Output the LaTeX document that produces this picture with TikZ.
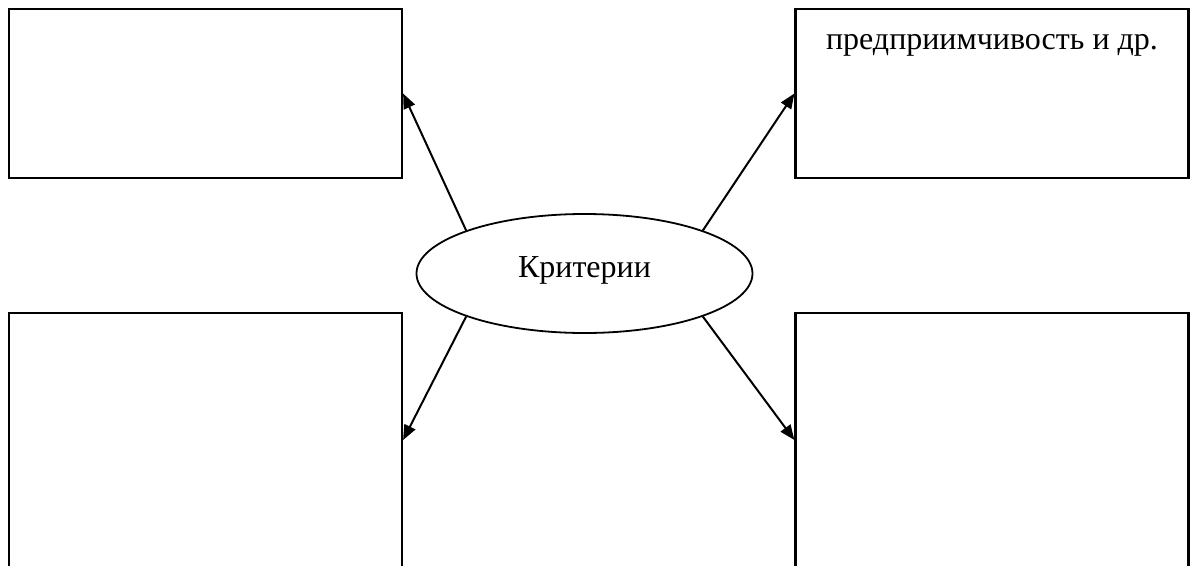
\documentclass[tikz,border=0pt]{standalone}
\usepackage{fontspec}
\setmainfont{Liberation Serif}
\usetikzlibrary{shapes.geometric,arrows.meta}
\begin{document}
\fontsize{16}{19}\selectfont
\begin{tikzpicture}[x=.5pt,y=-.5pt,
    box/.style={draw,line width=1.1pt,minimum width=196.5pt,inner sep=0pt},
    crit/.style={draw,ellipse,line width=.9pt,minimum width=168pt,minimum height=59.5pt,inner sep=0pt},
    arr/.style={-{Triangle[length=7.5pt,width=6pt]},line width=1pt}]
  \useasboundingbox (0,0) rectangle (1190,568);
  \clip (0,0) rectangle (1190,565); % lower boxes run off the page
  \node[crit,label={[anchor=base,yshift=1.5pt]center:Критерии}] (crit) at (584.5,273.5) {};
  \node[box,minimum height=84.5pt] (tl) at (205.5,93.5) {};
  \node[box,minimum height=84.5pt,
    label={[anchor=base,yshift=-21pt]north:предприимчивость и др.}] (tr) at (992,93.5) {};
  \node[box,minimum height=127pt] (bl) at (205.5,440) {};
  \node[box,minimum height=127pt] (br) at (992,440) {};
  \foreach \a/\b in {160/tl.east,20/tr.west,200/bl.east,-20/br.west}
    \draw[arr] (crit.\a) -- (\b);
\end{tikzpicture}
\end{document}
